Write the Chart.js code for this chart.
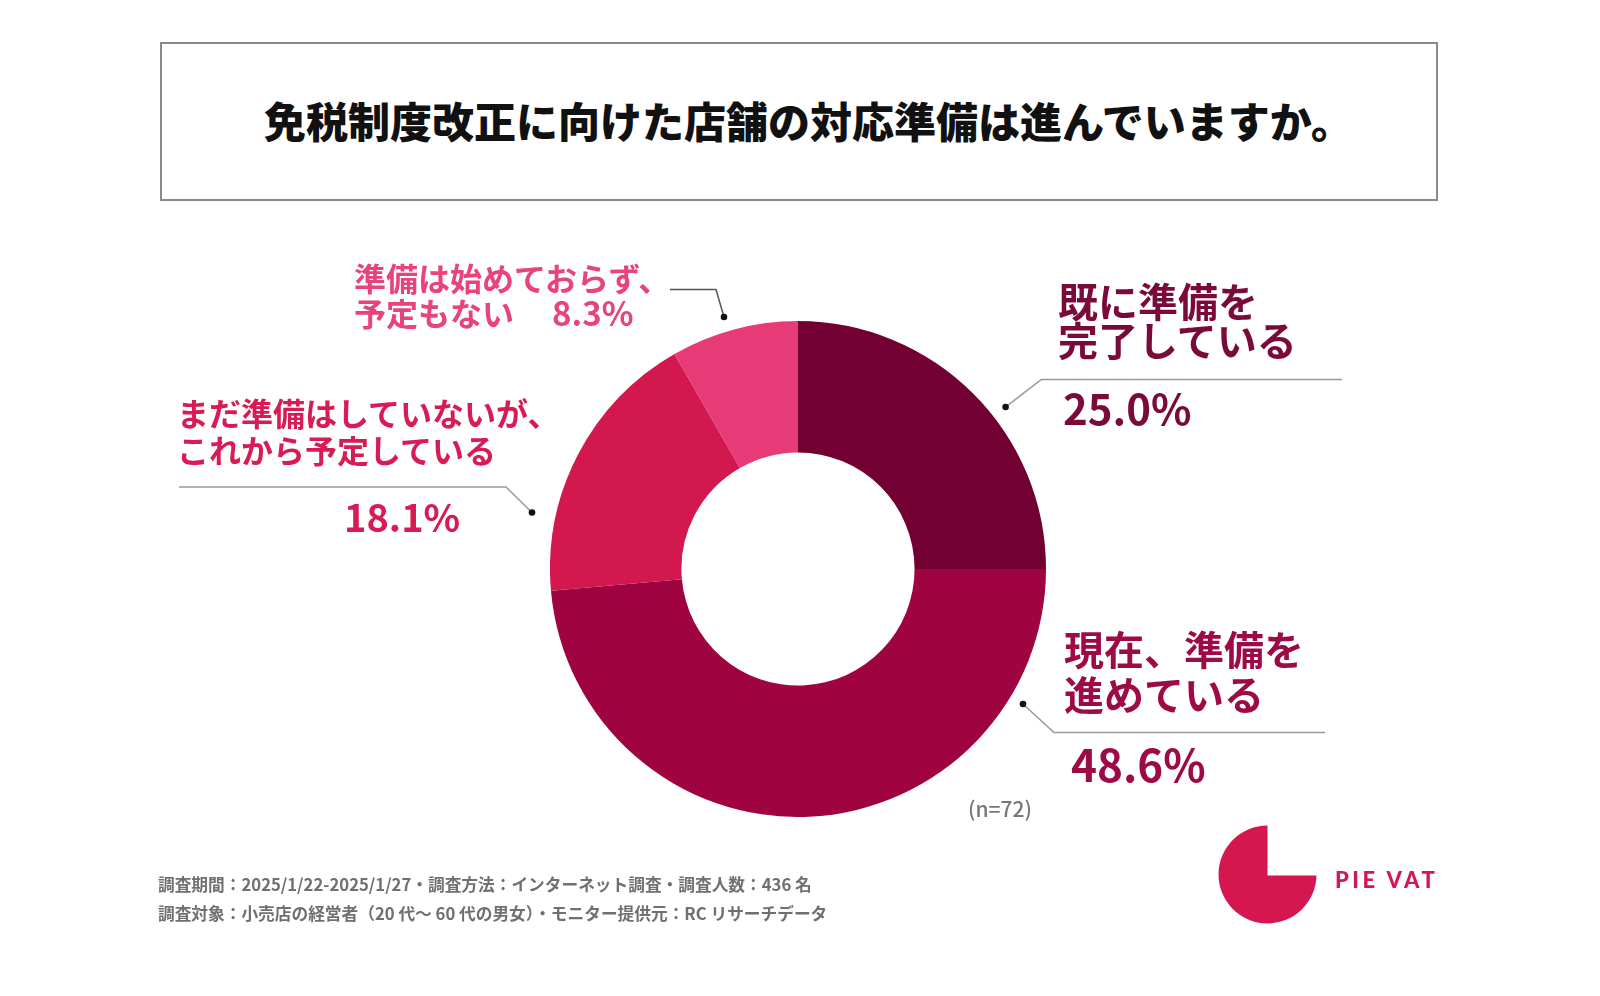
<!DOCTYPE html>
<html lang="ja">
<head>
<meta charset="utf-8">
<script src="https://cdn.jsdelivr.net/npm/chart.js@4.4.1/dist/chart.umd.min.js"></script>
<style>
  html, body { margin: 0; padding: 0; background: #fff; }
  body { width: 1600px; height: 996px; position: relative; overflow: hidden;
         font-family: "Noto Sans CJK JP", "Noto Sans", sans-serif; font-weight: 700; }
  .abs { position: absolute; white-space: nowrap; line-height: 1; }
  #titleBox { position: absolute; left: 160px; top: 42px; width: 1274px; height: 155px;
              border: 2px solid #8a8a8a; box-sizing: content-box; }
  #title { position: absolute; left: 19px; right: 0; top: 55px; text-align: center;
           font-size: 42px; color: #111; line-height: 1; font-weight: 900; }
  #chartWrap { position: absolute; left: 550px; top: 321px; width: 496px; height: 496px; }
  svg { position: absolute; left: 0; top: 0; }
</style>
</head>
<body>
<div id="titleBox"><div id="title"></div></div>
<div id="chartWrap"><canvas id="c" width="496" height="496"></canvas></div>
<svg width="1600" height="996" id="overlay">
  <polyline points="670,289.5 716,289.5 724,317" fill="none" stroke="#555" stroke-width="1.5"/>
  <circle cx="724" cy="317" r="3.3" fill="#111"/>
  <polyline points="179,487 506,487 532,512.5" fill="none" stroke="#999" stroke-width="1.5"/>
  <circle cx="532" cy="512.5" r="3.3" fill="#111"/>
  <polyline points="1005.6,407 1041.4,379.5 1342,379.5" fill="none" stroke="#999" stroke-width="1.5"/>
  <circle cx="1005.6" cy="407" r="3.3" fill="#111"/>
  <polyline points="1023,704 1054,732.5 1325,732.5" fill="none" stroke="#999" stroke-width="1.5"/>
  <circle cx="1023" cy="704" r="3.3" fill="#111"/>
  <!-- logo -->
  <path d="M1267.5,825.5 L1267.5,875.5 L1316.5,875.5 A49,49 0 1 1 1267.5,825.5 Z" fill="#d4174f"/>
</svg>

<div class="abs" id="l4" style="left:354px; top:260px; font-size:32px; line-height:35px; color:#e8437a;"></div>

<div class="abs" id="l3" style="left:177px; top:394px; font-size:32px; line-height:37px; color:#d81b55;"></div>
<div class="abs" id="p3" style="left:344px; top:497px; font-size:38px; color:#d81b55;"></div>

<div class="abs" id="l1" style="left:1058px; top:281px; font-size:40px; line-height:39px; color:#7a0a3a;"></div>
<div class="abs" id="p1" style="left:1063px; top:386px; font-size:42px; color:#7a0a3a;"></div>

<div class="abs" id="l2" style="left:1064px; top:626px; font-size:40px; line-height:45px; color:#9e0a45;"></div>
<div class="abs" id="p2" style="left:1071px; top:741px; font-size:44px; color:#9e0a45;"></div>

<div class="abs" id="nlabel" style="left:968px; top:798px; font-size:21px; color:#777; font-weight:500;"></div>

<div class="abs" id="f1" style="left:158px; top:876px; font-size:16.7px; color:#707070;"></div>
<div class="abs" id="f2" style="left:158px; top:905px; font-size:16.7px; color:#707070;"></div>

<div class="abs" id="logoText" style="left:1335px; top:869px; font-size:22px; color:#d4174f; letter-spacing:3.5px; font-family:'Lato','Noto Sans',sans-serif; font-weight:900;">PIE VAT</div>

<script>
// ---- data ----
const titleText = "免税制度改正に向けた店舗の対応準備は進んでいますか。";
const categories = ["既に準備を完了している", "現在、準備を進めている", "まだ準備はしていないが、これから予定している", "準備は始めておらず、予定もない"];
const labelLines = [["既に準備を", "完了している"], ["現在、準備を", "進めている"], ["まだ準備はしていないが、", "これから予定している"], ["準備は始めておらず、", "予定もない"]];
const values = [25.0, 48.6, 18.1, 8.3];
const sliceColors = ["#730032", "#9f0340", "#d3174f", "#e63b76"];
const sampleNote = "(n=72)";
const footnotes = [
  "調査期間：2025/1/22-2025/1/27・調査方法：インターネット調査・調査人数：436 名",
  "調査対象：小売店の経営者（20 代～ 60 代の男女）・モニター提供元：RC リサーチデータ"
];

// ---- texts ----
document.getElementById('title').textContent = titleText;
const ids = [["l1","p1"],["l2","p2"],["l3","p3"]];
ids.forEach((g, i) => {
  const el = document.getElementById(g[0]);
  el.appendChild(document.createTextNode(labelLines[i][0]));
  el.appendChild(document.createElement('br'));
  el.appendChild(document.createTextNode(labelLines[i][1]));
  document.getElementById(g[1]).textContent = values[i].toFixed(1) + "%";
});
// smallest slice: label and value share one block
(function () {
  const el = document.getElementById('l4');
  el.appendChild(document.createTextNode(labelLines[3][0]));
  el.appendChild(document.createElement('br'));
  el.appendChild(document.createTextNode(labelLines[3][1]));
  const sp = document.createElement('span');
  sp.style.fontSize = '33px';
  sp.style.marginLeft = '38px';
  sp.textContent = values[3].toFixed(1) + "%";
  el.appendChild(sp);
})();
document.getElementById('nlabel').textContent = sampleNote;
document.getElementById('f1').textContent = footnotes[0];
document.getElementById('f2').textContent = footnotes[1];

// ---- chart ----
new Chart(document.getElementById('c'), {
  type: 'doughnut',
  data: {
    labels: categories,
    datasets: [{
      data: values,
      backgroundColor: sliceColors,
      borderWidth: 0,
      hoverOffset: 0
    }]
  },
  options: {
    responsive: false,
    animation: false,
    cutout: '47%',
    rotation: 0,
    layout: { padding: 0 },
    plugins: { legend: { display: false }, tooltip: { enabled: false } }
  }
});
</script>
</body>
</html>
